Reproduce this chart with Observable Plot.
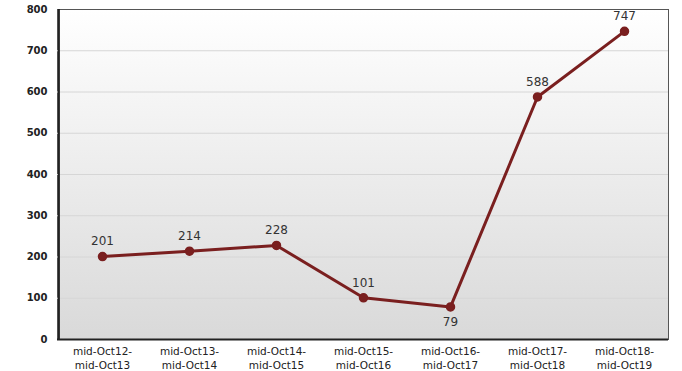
<!DOCTYPE html>
<html>
<head>
<meta charset="utf-8">
<script src="https://cdn.jsdelivr.net/npm/d3@7"></script>
<script src="https://cdn.jsdelivr.net/npm/@observablehq/plot@0.6"></script>
<style>
  html, body { margin: 0; padding: 0; background: #fff; }
  #chart svg { display: block; }
</style>
</head>
<body>
<div id="chart"></div>
<script>
const periods = ["mid-Oct12-mid-Oct13", "mid-Oct13-mid-Oct14", "mid-Oct14-mid-Oct15", "mid-Oct15-mid-Oct16", "mid-Oct16-mid-Oct17", "mid-Oct17-mid-Oct18", "mid-Oct18-mid-Oct19"];
const values = [201, 214, 228, 101, 79, 588, 747];
const yTicks = [0, 100, 200, 300, 400, 500, 600, 700, 800];

const data = periods.map((p, i) => ({period: p, value: values[i]}));
const above = data.filter(d => d.value !== 79);
const below = data.filter(d => d.value === 79);

const lineColor = "#7a1f1f";

const chart = Plot.plot({
  width: 682,
  height: 371,
  marginLeft: 57,
  marginRight: 14,
  marginTop: 9,
  marginBottom: 32,
  style: {fontFamily: "DejaVu Sans, Verdana, sans-serif", background: "#fff"},
  x: {domain: periods, type: "point", padding: 0.5, label: null},
  y: {domain: [0, 800], ticks: yTicks, label: null},
  marks: [
    Plot.frame({fill: "url(#bgGrad)", stroke: "#555", strokeWidth: 1}),
    Plot.gridY(yTicks.filter(t => t > 0 && t < 800), {stroke: "#d6d6d6", strokeOpacity: 1, strokeWidth: 1}),
    Plot.axisY({ticks: yTicks, tickSize: 0, tickPadding: 10, fontSize: 10, fontWeight: "bold", fill: "#222", label: null}),
    Plot.axisX({tickSize: 0, tickPadding: 6, fontSize: 10.5, fill: "#222", label: null,
      tickFormat: d => d.replace("-mid-", "-\nmid-"), lineHeight: 1.3}),
    Plot.ruleY([0], {stroke: "#222", strokeWidth: 2}),
    Plot.ruleX([periods[0]], {stroke: "#222", strokeWidth: 2, dx: -43.6, y1: 0, y2: 800}),
    Plot.line(data, {x: "period", y: "value", stroke: lineColor, strokeWidth: 3}),
    Plot.dot(data, {x: "period", y: "value", r: 4, fill: lineColor, stroke: lineColor}),
    Plot.text(above, {x: "period", y: "value", text: d => String(d.value), dy: -15, fontSize: 12, fill: "#333"}),
    Plot.text(below, {x: "period", y: "value", text: d => String(d.value), dy: 15, fontSize: 12, fill: "#333"})
  ]
});

const svg = d3.select(chart);
const defs = svg.insert("defs", ":first-child");
const grad = defs.append("linearGradient").attr("id", "bgGrad")
  .attr("x1", 0).attr("y1", 0).attr("x2", 0).attr("y2", 1);
grad.append("stop").attr("offset", "0%").attr("stop-color", "#ffffff");
grad.append("stop").attr("offset", "100%").attr("stop-color", "#d9d9d9");

document.getElementById("chart").appendChild(chart);
</script>
</body>
</html>
